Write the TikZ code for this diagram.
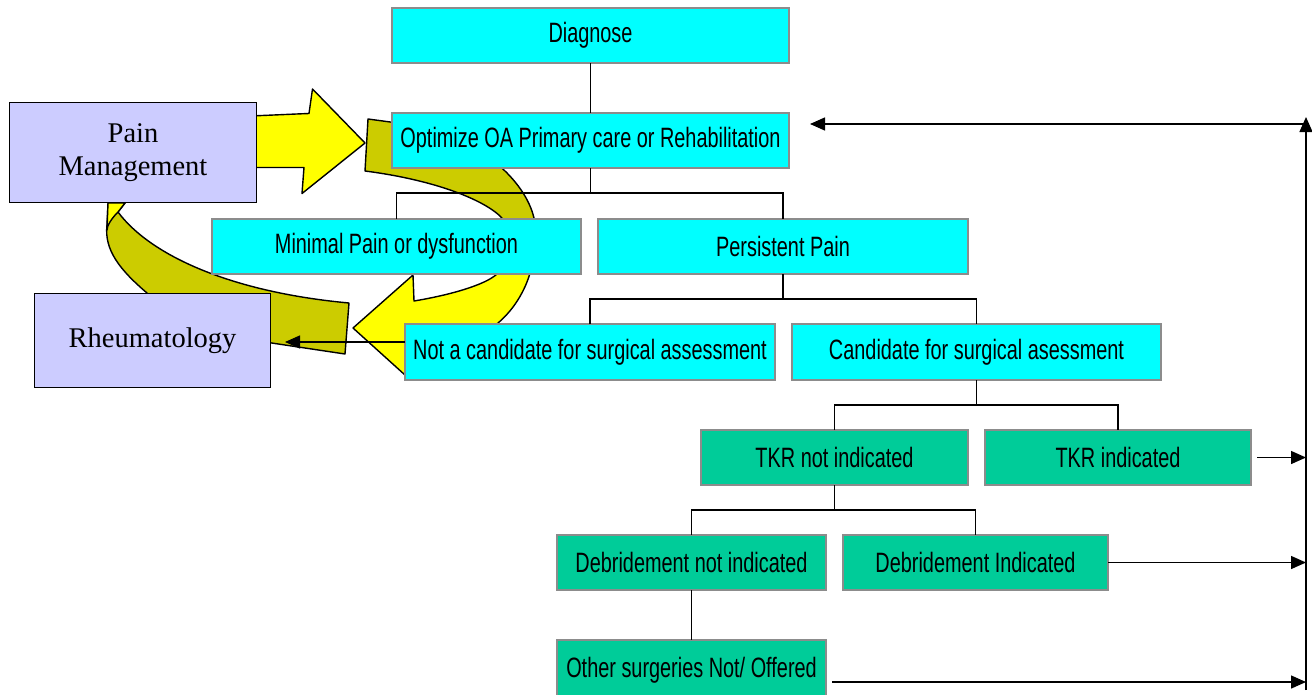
\documentclass[tikz,border=0pt]{standalone}
\usepackage{fontspec}
\setmainfont{Liberation Serif}
\newfontfamily\bxfont[FakeStretch=0.71]{Liberation Sans}
\usetikzlibrary{arrows.meta}
\definecolor{cyanbox}{HTML}{00FFFF}
\definecolor{greenbox}{HTML}{00CC99}
\definecolor{lav}{HTML}{CCCCFF}
\definecolor{yel}{HTML}{FFFF00}
\definecolor{oli}{HTML}{CCCC00}
\definecolor{bord}{HTML}{8C8C8C}
\begin{document}
\begin{tikzpicture}[x=1pt,y=-1pt,
  cbox/.style={draw=bord, line width=1.5pt, fill=cyanbox, inner sep=0pt, outer sep=0pt,
    font=\bxfont\fontsize{28}{31}\selectfont},
  gbox/.style={cbox, fill=greenbox},
  lbox/.style={draw=black, line width=1.5pt, fill=lav, inner sep=0pt, outer sep=0pt,
    align=center, font=\fontsize{28.5}{33}\selectfont},
  conn/.style={line width=1.4pt, draw=black},
  arr/.style={conn, -{Triangle[length=15pt,width=13pt]}},
  band/.style={draw=black, line width=1.4pt, line join=round}
]
\useasboundingbox (0,0) rectangle (1312,694);
\clip (0,0) rectangle (1312,694);

% yellow block arrow: Pain Management -> Optimize
\draw[band, fill=yel] (250,116) .. controls (275,115) and (295,114) .. (309,113.5)
  -- (312.5,89) -- (365,143) -- (302,193.5) -- (304,167.5) -- (250,167.5) -- cycle;

% curved band: Rheumatology -> Pain Management
\draw[band, fill=oli] (349,303) -- (345,354) -- (265,342)
  .. controls (200,330) and (160,310) .. (147,293)
  .. controls (120,270) and (104,250) .. (107,225) -- (108,203) -- (125,203) -- (118,212)
  .. controls (150,255) and (230,292) .. (349,303) -- cycle;
\draw[band, fill=yel] (108,203) -- (125,203) -- (118,212)
  .. controls (111,219) and (107,226) .. (107,230) -- cycle;

% big curved arrow: Optimize -> around -> Rheumatology side
\draw[band, fill=oli] (368,119) -- (420,126) .. controls (480,140) and (525,180) .. (534,218)
  -- (534,250) -- (506,250) -- (502,218)
  .. controls (485,200) and (435,180) .. (365,171) -- cycle;
\draw[band, fill=yel] (506,240) -- (534,240)
  .. controls (536,265) and (525,300) .. (498,323)
  .. controls (475,345) and (445,355) .. (420,360) -- (405,375) -- (353,328) -- (413,275)
  -- (414,301) .. controls (450,295) and (485,285) .. (497,274)
  .. controls (503,265) and (507,255) .. (506,240) -- cycle;

% boxes
\node[cbox, minimum width=397pt, minimum height=55pt] (diag) at (590.5,35.5) {Diagnose};
\node[cbox, minimum width=397pt, minimum height=55pt] (opt) at (590.5,140.5) {Optimize OA Primary care or Rehabilitation};
\node[cbox, minimum width=369pt, minimum height=55pt] (minp) at (396.5,246.5) {Minimal Pain or dysfunction};
\node[cbox, minimum width=370pt, minimum height=55pt] (pers) at (783,246.5) {Persistent Pain};
\node[cbox, minimum width=370pt, minimum height=56pt] (nac) at (590,352) {Not a candidate for surgical assessment};
\node[cbox, minimum width=369pt, minimum height=56pt] (cand) at (976.5,352) {Candidate for surgical asessment};
\node[gbox, minimum width=267pt, minimum height=55pt] (tkrn) at (834.5,457.5) {TKR not indicated};
\node[gbox, minimum width=266pt, minimum height=55pt] (tkri) at (1118,457.5) {TKR indicated};
\node[gbox, minimum width=269pt, minimum height=55pt] (dbn) at (691.5,562.5) {Debridement not indicated};
\node[gbox, minimum width=265pt, minimum height=55pt] (dbi) at (975.5,562.5) {Debridement Indicated};
\node[gbox, minimum width=269pt, minimum height=60pt] (oth) at (691.5,670) {Other surgeries Not/ Offered};
\node[lbox, minimum width=247pt, minimum height=100pt] (pain) at (133,152.5) {Pain\\Management};
\node[lbox, minimum width=236pt, minimum height=94pt] (rheum) at (152.5,340.5) {Rheumatology};

% tree connectors
\draw[conn] (diag) -- (opt);
\draw[conn] (opt.south) -- ++(0,25) coordinate (j1);
\draw[conn] (minp.north) |- (j1) -| (pers.north);
\draw[conn] (pers.south) -- ++(0,25) coordinate (j2);
\draw[conn] (nac.north) |- (j2) -| (cand.north);
\draw[conn] (cand.south) -- ++(0,25) coordinate (j3);
\draw[conn] (tkrn.north) |- (j3) -| (tkri.north);
\draw[conn] (tkrn.south) -- ++(0,25) coordinate (j4);
\draw[conn] (dbn.north) |- (j4) -| (dbi.north);
\draw[conn] (dbn) -- (oth);

% feedback loop
\coordinate (vb) at (1306,690);
\coordinate (vt) at (1306,117);
\coordinate (ht) at (1306,124);
\coordinate (hl) at (810,124);
\draw[arr] (vb) -- (vt);
\draw[arr] (ht) -- (hl);
\draw[arr] ([xshift=6pt]tkri.east) -- (tkri.east -| vb);
\draw[arr] (dbi.east) -- (dbi.east -| vb);
\draw[arr] ([xshift=6pt,yshift=-12pt]oth.east) -- ([yshift=-12pt]oth.east -| vb);

% to Rheumatology
\coordinate (rt) at (285,342);
\draw[arr] (nac.west |- rt) -- (rt);
\end{tikzpicture}
\end{document}
